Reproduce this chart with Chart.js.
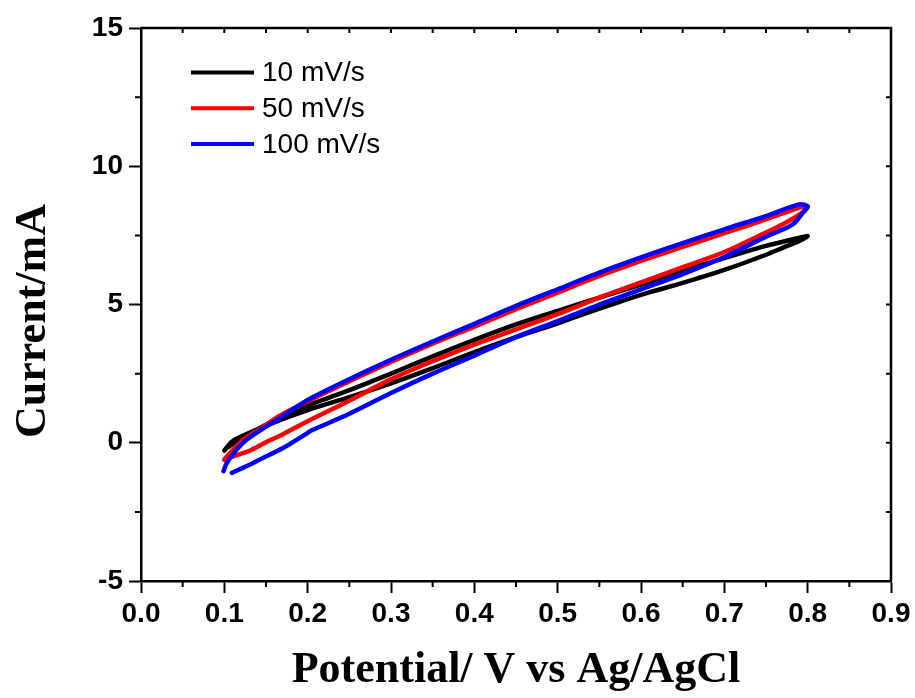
<!DOCTYPE html>
<html>
<head>
<meta charset="utf-8">
<script src="https://cdn.jsdelivr.net/npm/chart.js@4.4.1/dist/chart.umd.min.js"></script>
<style>
  html, body { margin: 0; padding: 0; background: #fff; }
  #wrap { width: 915px; height: 698px; }
</style>
</head>
<body>
<div id="wrap"><canvas id="cv" width="915" height="698"></canvas></div>
<script>
const SERIES_LABELS = ['10 mV/s', '50 mV/s', '100 mV/s'];
const SERIES_COLORS = ['#000000', '#ff0000', '#0000ff'];

// potential (V) / current (mA): forward sweep 0.1 -> 0.8, then the return sweep
const V_10 = [0.100, 0.110, 0.139, 0.163, 0.200, 0.243, 0.300, 0.347, 0.400, 0.450, 0.500, 0.550, 0.600, 0.650, 0.700, 0.750, 0.780, 0.800,
              0.790, 0.770, 0.750, 0.700, 0.650, 0.600, 0.550, 0.500, 0.450, 0.400, 0.347, 0.300, 0.250, 0.200, 0.150, 0.123, 0.105];
const I_10 = [-0.28, 0.06, 0.48, 0.85, 1.35, 1.82, 2.50, 3.09, 3.72, 4.28, 4.77, 5.25, 5.72, 6.22, 6.68, 7.12, 7.34, 7.48,
              7.30, 7.05, 6.80, 6.25, 5.78, 5.35, 4.85, 4.32, 3.82, 3.28, 2.66, 2.15, 1.65, 1.18, 0.62, 0.24, -0.15];

const V_50 = [0.100, 0.111, 0.123, 0.143, 0.165, 0.200, 0.250, 0.300, 0.350, 0.400, 0.450, 0.500, 0.550, 0.600, 0.650, 0.700, 0.750, 0.790, 0.800,
              0.795, 0.770, 0.750, 0.700, 0.650, 0.600, 0.550, 0.500, 0.450, 0.400, 0.350, 0.300, 0.250, 0.200, 0.171, 0.150, 0.131, 0.110, 0.100];
const I_50 = [-0.60, -0.24, 0.12, 0.50, 0.95, 1.50, 2.22, 2.92, 3.58, 4.20, 4.83, 5.43, 6.03, 6.58, 7.08, 7.58, 8.08, 8.50, 8.55,
              8.35, 7.90, 7.60, 6.90, 6.35, 5.80, 5.25, 4.65, 4.10, 3.55, 2.95, 2.30, 1.52, 0.78, 0.32, 0.02, -0.28, -0.50, -0.62];

const V_100 = [0.099, 0.103, 0.115, 0.127, 0.151, 0.167, 0.200, 0.250, 0.300, 0.350, 0.400, 0.450, 0.500, 0.550, 0.600, 0.650, 0.700, 0.750, 0.790, 0.800,
               0.795, 0.782, 0.750, 0.700, 0.650, 0.600, 0.550, 0.500, 0.450, 0.400, 0.350, 0.300, 0.250, 0.205, 0.200, 0.171, 0.143, 0.131, 0.109];
const I_100 = [-1.03, -0.73, -0.24, 0.12, 0.60, 0.90, 1.55, 2.30, 3.00, 3.66, 4.30, 4.95, 5.55, 6.15, 6.70, 7.22, 7.72, 8.20, 8.62, 8.55,
               8.35, 7.90, 7.45, 6.72, 6.10, 5.55, 5.00, 4.40, 3.82, 3.15, 2.50, 1.80, 1.05, 0.45, 0.36, -0.18, -0.60, -0.79, -1.09];

const X_MINOR = [0.05, 0.15, 0.25, 0.35, 0.45, 0.55, 0.65, 0.75, 0.85];
const X_MAJOR = [0, 0.1, 0.2, 0.3, 0.4, 0.5, 0.6, 0.7, 0.8, 0.9];
const Y_MINOR = [-2.5, 2.5, 7.5, 12.5];
const Y_MAJOR = [-5, 0, 5, 10, 15];

const TICK_FONT = { family: "'Liberation Sans', Arial, sans-serif", weight: 'bold', size: 28 };
const TITLE_FONT = { family: "'Liberation Serif', 'Times New Roman', serif", weight: 'bold', size: 44 };

function toPoints(xs, ys) {
  return xs.map((v, i) => ({ x: v, y: ys[i] }));
}

// box top/right edges, minor ticks outside, small ticks inside on top and right
const frameTicks = {
  id: 'frameTicks',
  afterDraw(chart) {
    const { ctx, chartArea: a } = chart;
    const x = chart.scales.x, y = chart.scales.y;
    ctx.save();
    ctx.strokeStyle = '#000';
    ctx.lineWidth = 2.5;
    ctx.beginPath();
    ctx.moveTo(a.left, a.top);
    ctx.lineTo(a.right, a.top);
    ctx.lineTo(a.right, a.bottom);
    ctx.stroke();
    ctx.lineWidth = 2;
    ctx.beginPath();
    X_MINOR.forEach(v => {
      const px = x.getPixelForValue(v);
      ctx.moveTo(px, a.bottom); ctx.lineTo(px, a.bottom + 6);
    });
    Y_MINOR.forEach(v => {
      const py = y.getPixelForValue(v);
      ctx.moveTo(a.left, py); ctx.lineTo(a.left - 6, py);
    });
    X_MAJOR.concat(X_MINOR).forEach(v => {
      const px = x.getPixelForValue(v);
      ctx.moveTo(px, a.top); ctx.lineTo(px, a.top + 5);
    });
    Y_MAJOR.concat(Y_MINOR).forEach(v => {
      const py = y.getPixelForValue(v);
      ctx.moveTo(a.right, py); ctx.lineTo(a.right - 5, py);
    });
    ctx.stroke();
    ctx.restore();
  }
};

const legendBox = {
  id: 'legendBox',
  afterDraw(chart) {
    const { ctx, chartArea: a } = chart;
    ctx.save();
    ctx.font = "28px 'Liberation Sans', Arial, sans-serif";
    ctx.textBaseline = 'middle';
    ctx.fillStyle = '#000';
    chart.data.datasets.forEach((ds, i) => {
      const ly = a.top + 44.5 + i * 35.7;
      ctx.strokeStyle = ds.borderColor;
      ctx.lineWidth = 4;
      ctx.beginPath();
      ctx.moveTo(a.left + 50, ly);
      ctx.lineTo(a.left + 113, ly);
      ctx.stroke();
      ctx.fillText(ds.label, a.left + 121, ly + 1);
    });
    ctx.restore();
  }
};

const datasets = [
  { label: SERIES_LABELS[0], data: toPoints(V_10, I_10), borderColor: SERIES_COLORS[0], order: 2 },
  { label: SERIES_LABELS[1], data: toPoints(V_50, I_50), borderColor: SERIES_COLORS[1], order: 1 },
  { label: SERIES_LABELS[2], data: toPoints(V_100, I_100), borderColor: SERIES_COLORS[2], order: 0 }
].map(d => ({ ...d, showLine: true, pointRadius: 0, borderWidth: 4.5, tension: 0.3, fill: false,
              borderCapStyle: 'round', borderJoinStyle: 'round' }));

new Chart(document.getElementById('cv'), {
  type: 'scatter',
  data: { datasets },
  options: {
    responsive: false,
    animation: false,
    layout: { padding: { left: 0, right: 24, top: 28, bottom: 0 } },
    plugins: { legend: { display: false }, tooltip: { enabled: false } },
    scales: {
      x: {
        type: 'linear', min: 0, max: 0.9,
        ticks: { stepSize: 0.1, color: '#000', font: TICK_FONT, padding: 4, maxRotation: 0, autoSkip: false,
                 callback: v => Number(v).toFixed(1) },
        grid: { drawOnChartArea: false, tickLength: 12, tickWidth: 2, tickColor: '#000' },
        border: { color: '#000', width: 2.5 },
        title: { display: true, text: 'Potential/ V vs Ag/AgCl', color: '#000', font: TITLE_FONT, padding: { top: 0, bottom: 1 } },
        afterFit: s => { s.height = 117; }
      },
      y: {
        type: 'linear', min: -5, max: 15,
        ticks: { stepSize: 5, color: '#000', font: TICK_FONT, padding: 6 },
        grid: { drawOnChartArea: false, tickLength: 12, tickWidth: 2, tickColor: '#000' },
        border: { color: '#000', width: 2.5 },
        title: { display: true, text: 'Current/mA\u00a0\u00a0\u00a0', color: '#000', font: TITLE_FONT, padding: { top: 7, bottom: 0 } },
        afterFit: s => { s.width = 141; }
      }
    }
  },
  plugins: [frameTicks, legendBox]
});
</script>
</body>
</html>
